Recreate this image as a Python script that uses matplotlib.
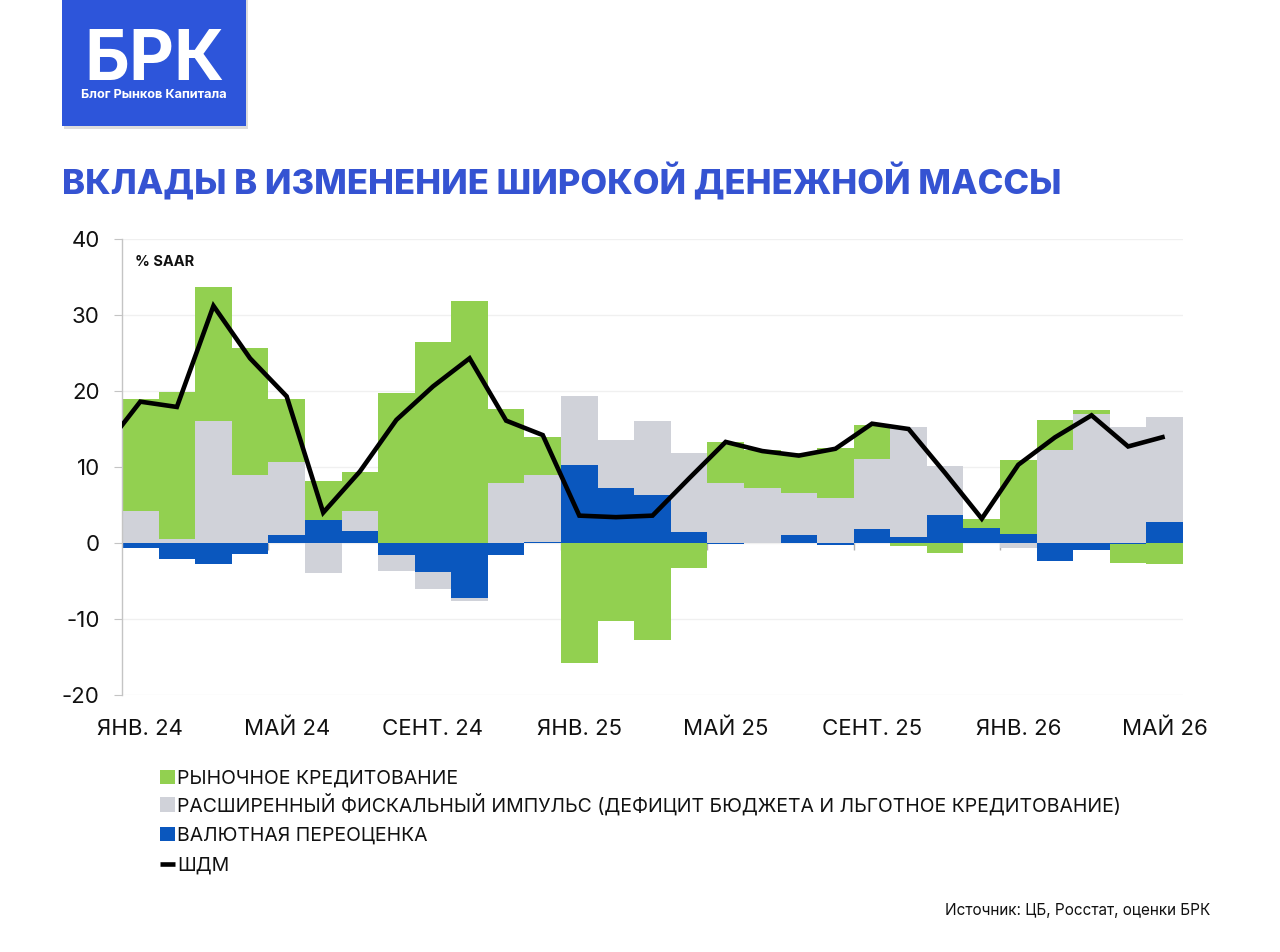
import matplotlib
matplotlib.use("Agg")
import matplotlib.pyplot as plt
import numpy as np
from matplotlib.patches import Rectangle

plt.rcParams['font.family'] = ['Inter', 'DejaVu Sans']

months = ["ЯНВ. 24", "ФЕВР. 24", "МАРТ 24", "АПР. 24", "МАЙ 24", "ИЮНЬ 24", "ИЮЛЬ 24", "АВГ. 24",
          "СЕНТ. 24", "ОКТ. 24", "НОЯБ. 24", "ДЕК. 24", "ЯНВ. 25", "ФЕВР. 25", "МАРТ 25", "АПР. 25",
          "МАЙ 25", "ИЮНЬ 25", "ИЮЛЬ 25", "АВГ. 25", "СЕНТ. 25", "ОКТ. 25", "НОЯБ. 25", "ДЕК. 25",
          "ЯНВ. 26", "ФЕВР. 26", "МАРТ 26", "АПР. 26", "МАЙ 26"]
tick_idx = [0, 4, 8, 12, 16, 20, 24, 28]

market_lending = [14.8, 19.4, 17.7, 16.7, 8.3, 5.1, 5.2, 19.7, 26.4, 31.8, 9.7, 5.1,
                  -15.8, -10.3, -12.7, -3.3, 5.4, 5.1, 5.2, 6.6, 4.5, -0.4, -1.3, 1.2,
                  9.7, 4.0, 0.5, -2.5, -2.7]
fiscal_impulse = [4.2, 0.5, 16.0, 9.0, 9.6, -4.0, 2.6, -2.1, -2.2, -0.4, 7.9, 8.8,
                  9.0, 6.3, 9.7, 10.4, 7.9, 7.2, 5.5, 5.9, 9.2, 14.4, 6.4, 0.0,
                  -0.6, 12.2, 17.0, 15.2, 13.9]
fx_revaluation = [-0.6, -2.1, -2.7, -1.5, 1.1, 3.0, 1.6, -1.6, -3.8, -7.2, -1.6, 0.1,
                  10.3, 7.3, 6.3, 1.4, -0.1, 0.0, 1.1, -0.2, 1.8, 0.8, 3.7, 2.0,
                  1.2, -2.4, -0.9, -0.1, 2.7]
# broad money line; first value is Dec 23 (only its segment into Jan 24 is visible)
broad_money_x = list(range(-1, 29))
broad_money = [12.4, 18.6, 17.9, 31.2, 24.3, 19.3, 4.0, 9.4, 16.2, 20.6, 24.3, 16.1, 14.2,
               3.6, 3.4, 3.6, 8.5, 13.3, 12.1, 11.5, 12.4, 15.7, 15.0, 9.2, 3.2,
               10.3, 13.9, 16.8, 12.7, 14.0]

series_names = ["РЫНОЧНОЕ КРЕДИТОВАНИЕ",
                "РАСШИРЕННЫЙ ФИСКАЛЬНЫЙ ИМПУЛЬС (ДЕФИЦИТ БЮДЖЕТА И ЛЬГОТНОЕ КРЕДИТОВАНИЕ)",
                "ВАЛЮТНАЯ ПЕРЕОЦЕНКА", "ШДМ"]

GREEN = "#92d050"
GREY = "#d0d2d9"
BLUE = "#0a57be"
TITLE_BLUE = "#3553d2"

W, H = 1280, 952
fig = plt.figure(figsize=(W / 100, H / 100), dpi=100)
fig.patch.set_facecolor("white")

ax = fig.add_axes([122 / W, 1 - 695 / H, (1183 - 122) / W, (695 - 239) / H])
x = np.arange(len(months))

pos_bottom = np.zeros(len(months))
neg_bottom = np.zeros(len(months))
containers = {}
for name, vals, col in [("fx", fx_revaluation, BLUE), ("fiscal", fiscal_impulse, GREY),
                        ("market", market_lending, GREEN)]:
    v = np.array(vals, dtype=float)
    bottom = np.where(v >= 0, pos_bottom, neg_bottom)
    containers[name] = ax.bar(x, v, width=1.0, bottom=bottom, color=col, linewidth=0, zorder=2)
    pos_bottom = pos_bottom + np.where(v > 0, v, 0)
    neg_bottom = neg_bottom + np.where(v < 0, v, 0)

line, = ax.plot(broad_money_x, broad_money, color="black", lw=3.3, zorder=4,
                solid_joinstyle="miter", solid_capstyle="butt")

ax.set_xlim(-0.5, len(months) - 0.5)
ax.set_ylim(-20, 40)
ax.set_yticks(np.arange(-20, 41, 10))
ax.set_yticklabels([str(v) for v in range(-20, 41, 10)])
ax.grid(axis="y", color="#f0f0f0", lw=1, zorder=0)
ax.set_axisbelow(True)
for s in ["top", "right", "bottom"]:
    ax.spines[s].set_visible(False)
ax.spines["left"].set_color("#c4c4c4")
ax.spines["left"].set_linewidth(1)
ax.tick_params(axis="y", length=6, color="#c4c4c4", labelsize=16, pad=10, labelcolor="#111111")
ax.set_xticks([i for i in tick_idx])
ax.set_xticklabels([months[i] for i in tick_idx])
ax.tick_params(axis="x", length=0, labelsize=16, pad=17, labelcolor="#111111")
# small boundary ticks on the zero line
ax.vlines([i - 0.5 for i in tick_idx[1:]], -0.9, 0, color="#b0b0b0", lw=1, zorder=1)

# title
fig.text(62 / W, 1 - 194 / H, "ВКЛАДЫ В ИЗМЕНЕНИЕ ШИРОКОЙ ДЕНЕЖНОЙ МАССЫ", fontsize=24.9,
         fontweight="heavy", color=TITLE_BLUE, va="baseline", ha="left")
fig.text(135 / W, 1 - 266 / H, "% SAAR", fontsize=10.5, fontweight="bold", color="#111111",
         va="baseline", ha="left")

# logo
fig.patches.append(Rectangle((64 / W, 1 - 129 / H), 184 / W, 129 / H, transform=fig.transFigure,
                             facecolor="#dcdcdc", edgecolor="none", zorder=1))
fig.patches.append(Rectangle((62 / W, 1 - 126 / H), 184 / W, 126 / H, transform=fig.transFigure,
                             facecolor="#2d55da", edgecolor="none", zorder=2))
fig.text(154 / W, 1 - 80 / H, "БРК", fontsize=50, fontweight="bold", color="white",
         ha="center", va="baseline", zorder=3)
fig.text(154 / W, 1 - 98 / H, "Блог Рынков Капитала", fontsize=9.2, fontweight="bold",
         color="white", ha="center", va="baseline", zorder=3)

# legend: one entry per row so rows are evenly spaced
handles = [containers["market"], containers["fiscal"], containers["fx"], line]
row_y = [779, 804, 836, 866]
for h, lab, yc in zip(handles, series_names, row_y):
    leg = fig.legend([h], [lab], loc="center left", bbox_to_anchor=(160 / W, 1 - yc / H),
                     frameon=False, fontsize=14.0, handlelength=0.75, handleheight=0.75,
                     handletextpad=0.12, borderaxespad=0, borderpad=0)
    for t in leg.get_texts():
        t.set_color("#111111")

fig.text(1210 / W, 1 - 915 / H, "Источник: ЦБ, Росстат, оценки БРК", fontsize=11,
         color="#111111", ha="right", va="baseline")

fig.savefig("out.png", dpi=100)
